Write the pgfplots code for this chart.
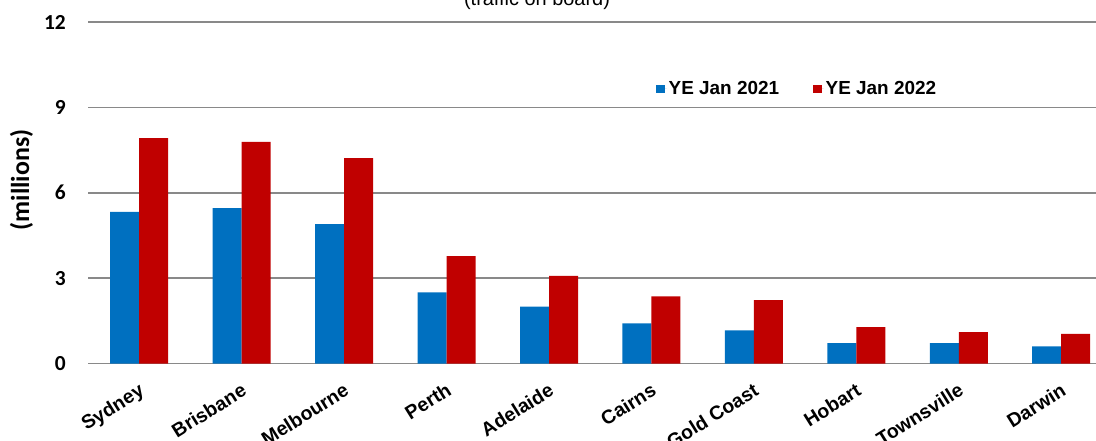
\documentclass[border=0pt]{standalone}
\usepackage{pgfplots}
\pgfplotsset{compat=1.18}
\usepackage{fontspec}
\setmainfont{Liberation Sans}
\newfontfamily\cali{Carlito}
\definecolor{cblue}{HTML}{0070C0}
\definecolor{cred}{HTML}{C00000}
\definecolor{cgrid}{HTML}{898989}
\begin{document}
\begin{tikzpicture}
\path[use as bounding box] (0bp,0bp) rectangle (1096bp,441bp);
\begin{axis}[
  at={(88bp,77.5bp)}, anchor=south west,
  scale only axis, width=1008bp, height=341.5bp,
  xmin=-0.5, xmax=9.34, ymin=0, ymax=12,
  ytick={0,3,6,9,12},
  /pgf/number format/assume math mode=true,
  xtick={0,...,9},
  xticklabels={Sydney,Brisbane,Melbourne,Perth,Adelaide,Cairns,Gold Coast,Hobart,Townsville,Darwin},
  ymajorgrids, grid style={cgrid, line width=1.6bp},
  axis line style={draw=none},
  major tick length=0pt,
  ybar=0pt, bar width=29bp,
  y tick label style={font=\cali\bfseries\fontsize{21.5}{21.5}\selectfont, inner sep=0pt, xshift=-22bp},
  x tick label style={font=\bfseries\fontsize{19.5}{19.5}\selectfont, rotate=32, anchor=north east, inner sep=0pt, xshift=-11bp, yshift=-15bp},
  legend style={at={(rel axis cs:0.5605,0.804)}, anchor=west, draw=none, fill=none,
    font=\bfseries\fontsize{19}{19}\selectfont, legend columns=2,
    /tikz/every even column/.append style={column sep=32bp}},
  legend image code/.code={\fill[#1] (0bp,-4.25bp) rectangle (8.5bp,4.25bp);\path (0bp,0bp) -- (10.5bp,0bp);},
]
\addplot[fill=cblue, draw=none] coordinates {(0,5.33) (1,5.46) (2,4.90) (3,2.50) (4,2.00) (5,1.41) (6,1.16) (7,0.72) (8,0.72) (9,0.60)};
\addplot[fill=cred, draw=none] coordinates {(0,7.92) (1,7.79) (2,7.22) (3,3.77) (4,3.08) (5,2.36) (6,2.23) (7,1.28) (8,1.10) (9,1.04)};
\legend{YE Jan 2021, YE Jan 2022}
\end{axis}
\node[anchor=base, font=\fontsize{20}{20}\selectfont, inner sep=0pt] at (537bp,435bp) {(traffic on board)};
\node[rotate=90, font=\cali\bfseries\fontsize{26}{26}\selectfont, inner sep=0pt] at (21.5bp,261bp) {(millions)};
\end{tikzpicture}
\end{document}
